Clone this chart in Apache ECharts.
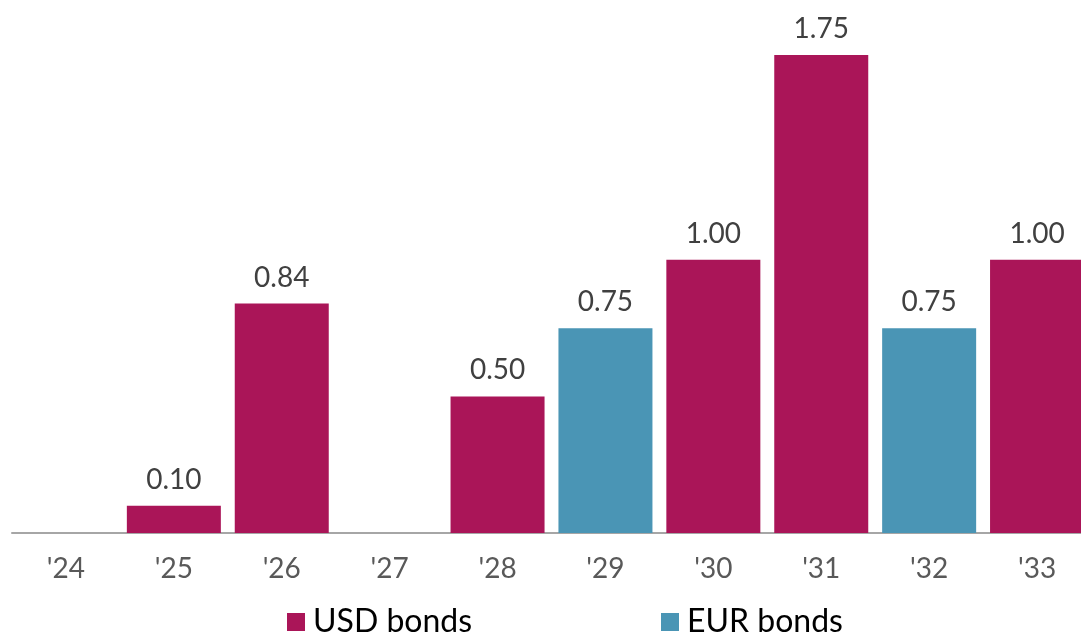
<!DOCTYPE html>
<html>
<head>
<meta charset="utf-8">
<script src="https://cdn.jsdelivr.net/npm/echarts@6/dist/echarts.min.js"></script>
<style>
html,body{margin:0;padding:0;background:#fff;}
#c{width:1081px;height:634px;}
</style>
</head>
<body>
<div id="c"></div>
<script>
const categories = ["'24","'25","'26","'27","'28","'29","'30","'31","'32","'33"];
const usdBonds = [null, 0.10, 0.84, null, 0.50, null, 1.00, 1.75, null, 1.00];
const eurBonds = [null, null, null, null, null, 0.75, null, null, 0.75, null];

const chart = echarts.init(document.getElementById('c'), null, {renderer: 'canvas'});
const labelCfg = {
  show: true,
  position: 'top',
  distance: 12,
  color: '#404040',
  fontFamily: 'Lato',
  fontSize: 28,
  formatter: p => p.value == null ? '' : Number(p.value).toFixed(2)
};
const legendText = {fontFamily: 'Lato', fontSize: 32, color: '#000', lineHeight: 32, padding: [0,0,0,3]};
chart.setOption({
  animation: false,
  backgroundColor: '#ffffff',
  grid: {left: 12, width: 1079, top: 14, height: 519, containLabel: false, outerBoundsMode: 'none'},
  legend: [
    {data: ['USD bonds'], left: 287, top: 606, padding: 0, itemWidth: 18, itemHeight: 18, icon: 'rect', textStyle: legendText},
    {data: ['EUR bonds'], left: 661, top: 606, padding: 0, itemWidth: 18, itemHeight: 18, icon: 'rect', textStyle: legendText}
  ],
  xAxis: {
    type: 'category',
    data: categories,
    axisTick: {show: false},
    axisLine: {lineStyle: {color: '#A6A6A6', width: 2}},
    axisLabel: {color: '#595959', fontFamily: 'Lato', fontSize: 28, margin: 22}
  },
  yAxis: {
    type: 'value', min: 0, max: 1.9,
    show: false,
    splitLine: {show: false}
  },
  series: [
    {name: 'USD bonds', type: 'bar', stack: 'a', data: usdBonds, barWidth: 94,
     itemStyle: {color: '#AA1558'}, label: labelCfg},
    {name: 'EUR bonds', type: 'bar', stack: 'a', data: eurBonds, barWidth: 94,
     itemStyle: {color: '#4A95B5'}, label: labelCfg}
  ]
});
</script>
</body>
</html>
